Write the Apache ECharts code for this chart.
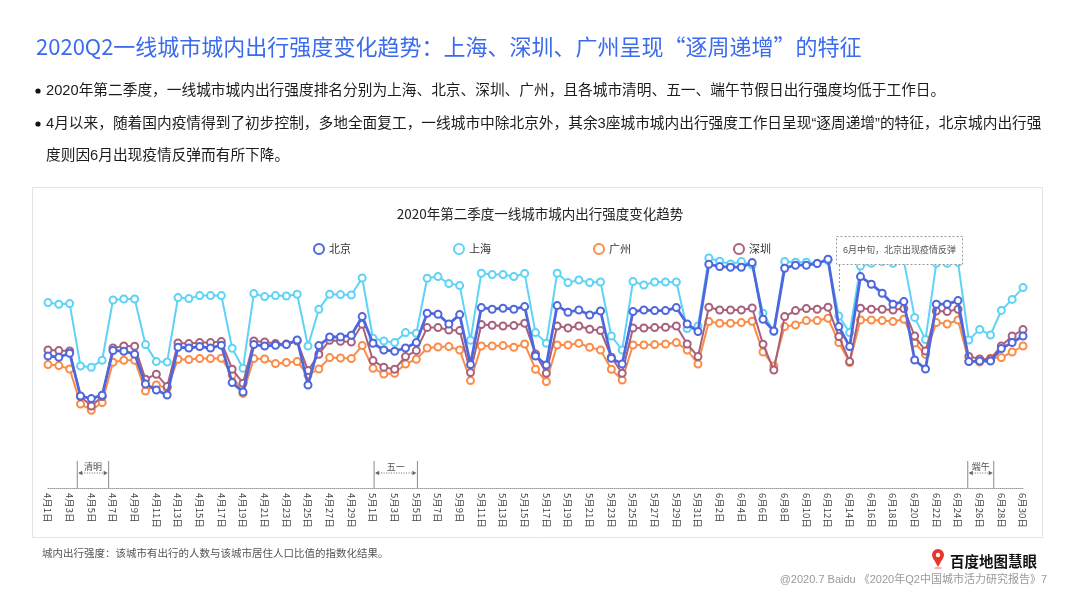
<!DOCTYPE html>
<html>
<head>
<meta charset="utf-8">
<script src="https://cdn.jsdelivr.net/npm/echarts@6/dist/echarts.min.js"></script>
<style>
html,body{margin:0;padding:0;background:#fff;}
#c{width:1080px;height:608px;}
</style>
</head>
<body>
<div id="c"></div>
<script>
const categories = [
'4月1日','4月2日','4月3日','4月4日','4月5日','4月6日','4月7日','4月8日','4月9日','4月10日',
'4月11日','4月12日','4月13日','4月14日','4月15日','4月16日','4月17日','4月18日','4月19日','4月20日',
'4月21日','4月22日','4月23日','4月24日','4月25日','4月26日','4月27日','4月28日','4月29日','4月30日',
'5月1日','5月2日','5月3日','5月4日','5月5日','5月6日','5月7日','5月8日','5月9日','5月10日',
'5月11日','5月12日','5月13日','5月14日','5月15日','5月16日','5月17日','5月18日','5月19日','5月20日',
'5月21日','5月22日','5月23日','5月24日','5月25日','5月26日','5月27日','5月28日','5月29日','5月30日',
'5月31日','6月1日','6月2日','6月3日','6月4日','6月5日','6月6日','6月7日','6月8日','6月9日',
'6月10日','6月11日','6月12日','6月13日','6月14日','6月15日','6月16日','6月17日','6月18日','6月19日',
'6月20日','6月21日','6月22日','6月23日','6月24日','6月25日','6月26日','6月27日','6月28日','6月29日','6月30日'
];

const beijing = [66,65.4,67.4,46,44.7,46.4,68.7,68.4,66.9,52,
49,46.5,70.4,70,70.7,70,71.4,52.7,48,71.7,
71,71.4,71.7,74,51.5,71.2,75.5,75.5,76.4,85.7,
72.4,69,68.4,70,72.7,87.4,86.9,82,86.7,61.7,
90.2,89.4,89.9,89.4,90.7,66,61.5,91.2,87.9,89,
86.5,88.5,64.9,62,88.2,89,88.7,88.7,90.2,82,
78.2,111.9,110.7,110.4,110.4,112.7,84.4,78.5,109.9,111.4,
111.4,112.2,114.4,80.7,70.7,105.7,101.9,97.4,91.9,93.2,
64,59.5,91.9,91.9,93.7,63.2,63.5,63.5,69.7,72.7,76];

const shanghai = [92.7,91.9,92.2,61,60.4,63.9,94,94.5,94.5,71.7,
63.2,63,95.2,94.7,96.2,96.2,96.2,69.9,59.9,97.2,
95.7,96.2,96,96.9,71,89.4,96.9,96.7,96.5,105,
74.9,73.5,72.7,77.7,77.4,104.9,105.7,102.2,101.2,73.9,
107.4,106.7,106.7,105.7,107.3,77.7,72.4,107.4,102.7,104,
102.7,103,76,69,103.2,101.5,103,103,103,79.7,
81,115,113.4,112,113.2,111.5,87.4,78.2,113.2,112.9,
112.9,112.4,113.7,86,77.7,111,112.4,113.2,112.4,113.7,
85.3,74.2,112.4,112.4,112.9,74,79.3,76.5,88.8,94.3,100.2];

const guangzhou = [61.7,61.2,59.5,42,38.9,42.7,62.9,63.9,63.9,48.5,
51.5,49.9,64.4,64.2,64.7,64.7,64.9,56.5,47.3,64.7,
64.5,62.2,62.8,63.2,56.5,59.5,65.2,65,64.7,71.2,
59.9,57,57.4,62,64.4,70,70.5,70.7,69,53.7,
71,71,71.2,70.4,72,59.4,53.2,71.5,71.5,72.4,
70.4,69,59.4,54,71.5,71.5,71.7,72,72.7,69,
62,83.2,82.4,82.4,82.7,83.4,68,61,80.7,81.5,
83.7,83.7,84.9,72.7,62.7,84,84,83.7,83.2,84.4,
72.5,66.8,82.7,82,84,63.3,63,64.9,65.2,68,71];

const shenzhen = [69,68.7,68.5,45.7,41,45.7,70,71,70.9,54.4,
56.9,50.7,72.5,72.2,72.7,72.7,73.2,59.4,52.4,73.5,
73,72.2,72,73.5,58.7,66.9,73.9,73.4,73,81.9,
63.7,60.4,59.4,65.7,68.7,80.2,80.2,79,78.7,57.7,
81.7,81.4,81,81.2,82.4,67,57.4,81,80,81,
79.4,78.7,65.4,57.4,80,80,80.2,80.4,81,72,
65.7,90.4,89,89,89,90,71.9,59,85.7,88.7,
89.7,89.4,90.4,75.7,63.2,89.9,89.4,89.4,89,89.7,
76,68.5,88.5,88.2,89.4,65.8,64.5,64.5,71,76,79.2];

const seriesNames = ['北京','上海','广州','深圳'];
const seriesColors = ['#4e67dc','#5fd3f6','#fb8c48','#a8607d'];
const holidays = [
  {name:'清明', from:2.7, to:5.6},
  {name:'五一', from:30.1, to:34.1},
  {name:'端午', from:84.9, to:87.3}
];

const FONT = '"Noto Sans CJK SC","Noto Sans",sans-serif';
const LFONT = '"Liberation Sans","Noto Sans CJK SC",sans-serif';
const GRID = {left:48, right:57, top:228, bottom:120};
const chart = echarts.init(document.getElementById('c'), null, {renderer:'canvas'});

function mkSeries(name, data, color, lw, z){
  return {
    name:name, type:'line', data:data, z:z,
    symbol:'emptyCircle', symbolSize:7, showAllSymbol:true,
    lineStyle:{width:lw, color:color},
    itemStyle:{color:color, borderWidth:2, borderColor:color},
    emphasis:{disabled:true}, animation:false
  };
}

const option = {
  animation:false,
  textStyle:{fontFamily:FONT},
  title:[
    {text:'2020Q2一线城市城内出行强度变化趋势：上海、深圳、广州呈现“逐周递增”的特征',
     left:31, top:31, textStyle:{fontSize:22, fontWeight:'normal', color:'#3a6bef', fontFamily:FONT}},
    {text:'2020年第二季度一线城市城内出行强度变化趋势', left:'center', top:202,
     textStyle:{fontSize:13.5, fontWeight:'normal', color:'#222', fontFamily:FONT}}
  ],
  legend:{
    data:seriesNames, left:308, top:238, itemGap:102, itemWidth:10, itemHeight:10,
    icon:'emptyCircle', textStyle:{fontSize:11, color:'#333', fontFamily:FONT},
    selectedMode:false
  },
  grid:GRID,
  xAxis:{
    type:'category', data:categories, boundaryGap:false,
    axisLine:{lineStyle:{color:'#9a9a9a', type:'dotted', width:1}},
    axisTick:{show:false},
    axisLabel:{interval:1, rotate:-90, fontSize:9.5, color:'#444', margin:5, fontFamily:FONT}
  },
  yAxis:{type:'value', min:0, max:130, show:false, splitLine:{show:false}},
  series:[
    mkSeries('上海', shanghai, seriesColors[1], 2, 2),
    mkSeries('广州', guangzhou, seriesColors[2], 2, 3),
    mkSeries('深圳', shenzhen, seriesColors[3], 2, 4),
    mkSeries('北京', beijing, seriesColors[0], 2.8, 5)
  ],
  color:[seriesColors[1],seriesColors[2],seriesColors[3],seriesColors[0]]
};
chart.setOption(option);

function px(idx){
  const i0 = Math.floor(idx), i1 = Math.min(i0+1, categories.length-1);
  const p0 = chart.convertToPixel({xAxisIndex:0}, categories[i0]);
  const p1 = chart.convertToPixel({xAxisIndex:0}, categories[i1]);
  return p0 + (p1-p0)*(idx-i0);
}
const axisY = 608 - GRID.bottom;
const g = [];
g.push({type:'rect', shape:{x:32.5, y:187.5, width:1010, height:350}, style:{fill:null, stroke:'#e3e3e3', lineWidth:1}, z:0});
const bullets = [
  {y:91, text:'2020年第二季度，一线城市城内出行强度排名分别为上海、北京、深圳、广州，且各城市清明、五一、端午节假日出行强度均低于工作日。', dot:true},
  {y:124, text:'4月以来，随着国内疫情得到了初步控制，多地全面复工，一线城市中除北京外，其余3座城市城内出行强度工作日呈现“逐周递增”的特征，北京城内出行强', dot:true},
  {y:156, text:'度则因6月出现疫情反弹而有所下降。', dot:false}
];
bullets.forEach(b=>{
  if(b.dot) g.push({type:'circle', shape:{cx:38, cy:b.y, r:2.6}, style:{fill:'#111'}});
  g.push({type:'text', x:46, y:b.y, style:{text:b.text, font:'14.7px '+LFONT, fill:'#1c1c1c', textVerticalAlign:'middle', textAlign:'left'}});
});
holidays.forEach(h=>{
  const x1 = px(h.from), x2 = px(h.to);
  const top = axisY - 27;
  g.push({type:'line', shape:{x1:x1, y1:top, x2:x1, y2:axisY}, style:{stroke:'#8a8a8a', lineWidth:1}});
  g.push({type:'line', shape:{x1:x2, y1:top, x2:x2, y2:axisY}, style:{stroke:'#8a8a8a', lineWidth:1}});
  const ay = axisY - 15;
  g.push({type:'line', shape:{x1:x1+2, y1:ay, x2:x2-2, y2:ay}, style:{stroke:'#666', lineWidth:1, lineDash:[1,1.5]}});
  g.push({type:'polygon', shape:{points:[[x1+1,ay],[x1+5,ay-2.2],[x1+5,ay+2.2]]}, style:{fill:'#666'}});
  g.push({type:'polygon', shape:{points:[[x2-1,ay],[x2-5,ay-2.2],[x2-5,ay+2.2]]}, style:{fill:'#666'}});
  g.push({type:'text', x:(x1+x2)/2, y:axisY-21, style:{text:h.name, font:'9px '+FONT, fill:'#555', textAlign:'center', textVerticalAlign:'middle'}});
});
g.push({type:'rect', shape:{x:836.5, y:236.5, width:126, height:28}, style:{fill:'#fff', stroke:'#999', lineWidth:1, lineDash:[2,2]}, z:10});
g.push({type:'line', shape:{x1:839.5, y1:265, x2:839.5, y2:292}, style:{stroke:'#999', lineWidth:1, lineDash:[2,2]}, z:10});
g.push({type:'text', x:899.5, y:250.5, style:{text:'6月中旬，北京出现疫情反弹', font:'9px '+LFONT, fill:'#555', textAlign:'center', textVerticalAlign:'middle'}, z:11});
g.push({type:'text', x:42, y:553, style:{text:'城内出行强度：该城市有出行的人数与该城市居住人口比值的指数化结果。', font:'10.5px '+FONT, fill:'#555', textVerticalAlign:'middle'}});
g.push({type:'text', x:1047, y:580, style:{text:'@2020.7 Baidu 《2020年Q2中国城市活力研究报告》7', font:'11px '+LFONT, fill:'#999', textAlign:'right', textVerticalAlign:'middle'}});
g.push({type:'polygon', shape:{points:[[933,558],[943,558],[938,567]]}, style:{fill:'#e8362b'}});
g.push({type:'circle', shape:{cx:938, cy:555, r:6}, style:{fill:'#e8362b'}});
g.push({type:'circle', shape:{cx:938, cy:555, r:2.2}, style:{fill:'#fff'}});
g.push({type:'ellipse', shape:{cx:938, cy:568, rx:4, ry:1.3}, style:{fill:'#f4b6b1'}});
g.push({type:'text', x:950, y:561, style:{text:'百度地图慧眼', font:'bold 14.5px '+FONT, fill:'#111', textVerticalAlign:'middle'}});
chart.setOption({graphic:{elements:g}});
</script>
</body>
</html>
